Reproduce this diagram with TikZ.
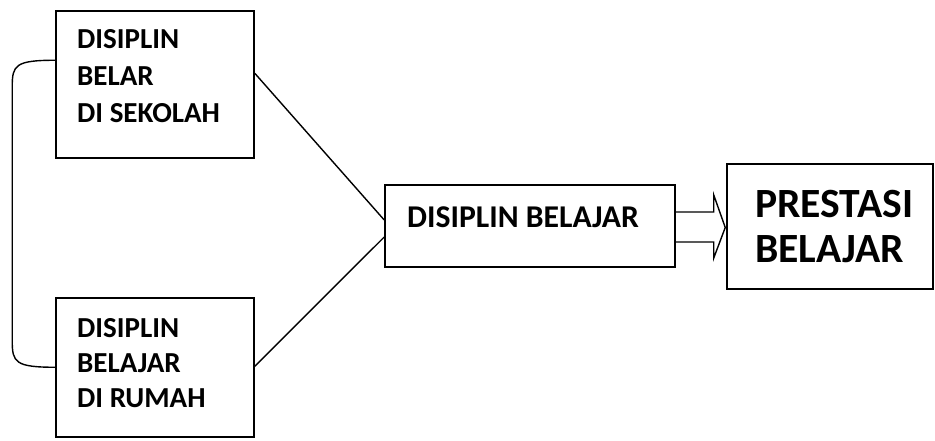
\documentclass[tikz,border=0pt]{standalone}
\usepackage{fontspec}
\setmainfont{Carlito}
\usetikzlibrary{calc}
\begin{document}
\begin{tikzpicture}[x=1pt,y=-1pt,
  box/.style={draw,line width=1.5pt,rectangle,inner sep=0pt},
  lbl/.style={anchor=base west,inner sep=0pt},
  small/.style={lbl,font=\fontsize{29}{35}\bfseries},
  con/.style={line width=1.4pt}]
\useasboundingbox (0,0) rectangle (935,440);
\node[box,minimum width=198pt,minimum height=147pt] (b1) at (155,84.5) {};
\node[box,minimum width=198pt,minimum height=139pt] (b2) at (155,367.5) {};
\node[box,minimum width=290pt,minimum height=82pt] (mid) at (530,226) {};
\node[box,minimum width=206pt,minimum height=125pt] (pr) at (830,226.5) {};
% texts
\node[small] (t1a) at (77,48) {DISIPLIN};
\node[small] (t1b) at (77,85) {BELAR};
\node[small] (t1c) at (77,122) {DI SEKOLAH};
\node[small] (t2a) at (77,337) {DISIPLIN};
\node[small] (t2b) at (77,372) {BELAJAR};
\node[small] (t2c) at (77,407) {DI RUMAH};
\node[lbl,font=\fontsize{31.7}{36}\bfseries] (tm) at (407,227) {DISIPLIN BELAJAR};
\node[lbl,font=\fontsize{41.6}{48}\bfseries] (tp1) at (755,217) {PRESTASI};
\node[lbl,font=\fontsize{41.6}{48}\bfseries] (tp2) at (755,262) {BELAJAR};
% connectors
\coordinate (m1) at ($(mid.west)+(0,-6)$);
\coordinate (m2) at ($(mid.west)+(0,11)$);
\draw[con] ($(b1.north east)+(0,63)$) -- (m1);
\draw[con] ($(b2.north east)+(0,69)$) -- (m2);
\coordinate (s1) at ($(b1.north west)+(0,50)$);
\coordinate (s2) at ($(b2.north west)+(0,70)$);
\draw[con] (s1) .. controls ($(s1)+(-40,0)$) and ($(s1)+(-43,5)$) .. ($(s1)+(-43,26)$)
  -- ($(s2)+(-43,-26)$) .. controls ($(s2)+(-43,-5)$) and ($(s2)+(-40,0)$) .. (s2);
% double arrow
\draw[con] ($(mid.east)+(0,-14)$) -- ++(38,0) -- ++(0,-17) -- ($(pr.west)+(-1,1)$)
  -- ($(mid.east)+(38,32)$) -- ++(0,-16) -- ($(mid.east)+(0,16)$);
\end{tikzpicture}
\end{document}
